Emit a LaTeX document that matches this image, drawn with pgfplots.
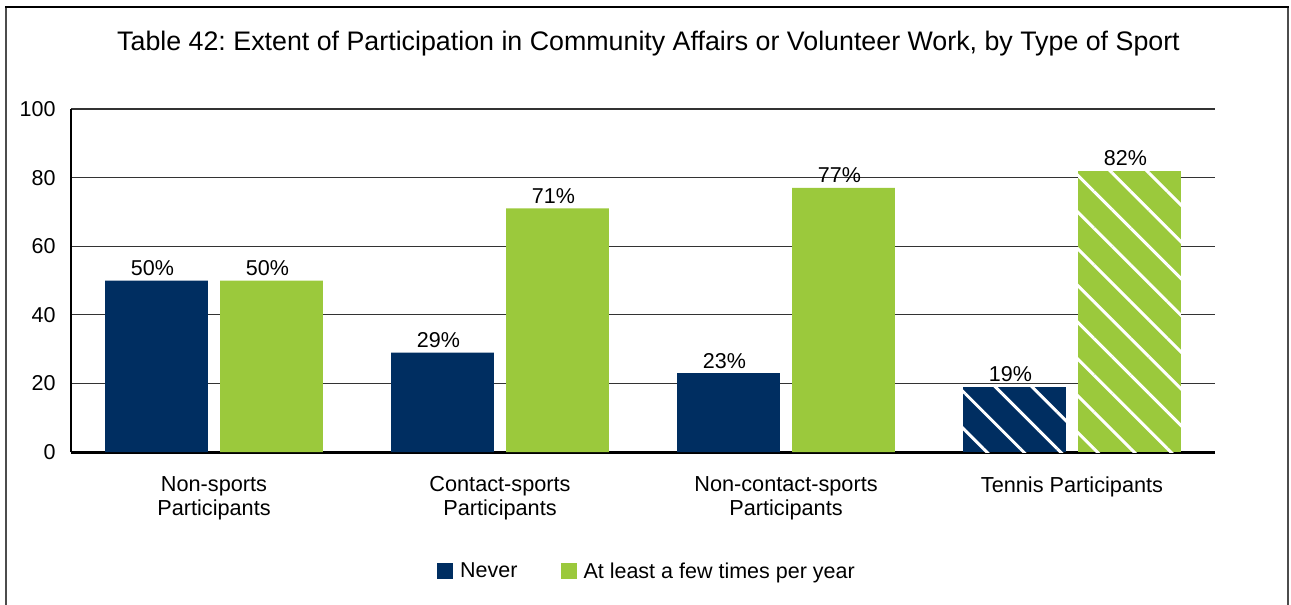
\documentclass[border=0pt]{standalone}
\usepackage{pgfplots}
\pgfplotsset{compat=1.18}
\usepackage{fontspec}
\setmainfont{Liberation Sans}
\usetikzlibrary{patterns.meta}
\definecolor{navy}{RGB}{0,46,97}
\definecolor{lgreen}{RGB}{155,201,60}
\newcommand{\lbl}{\fontsize{21.5}{24}\selectfont}
\frenchspacing
\begin{document}
\begin{tikzpicture}[x=1pt,y=1pt]
\useasboundingbox (0,0) rectangle (1291,-605);
% frame
\draw[line width=1.3pt, black!70] (6,-615) -- (6,-7);
\draw[line width=1.3pt, black!70] (1288,-615) -- (1288,-7);
\draw[line width=2pt, black] (5.35,-7) -- (1288.65,-7);
\node[anchor=base, font=\fontsize{26.8}{30}\selectfont, inner sep=0pt] at (648.5,-50) {Table 42: Extent of Participation in Community Affairs or Volunteer Work, by Type of Sport};
\begin{axis}[
  at={(71pt,-452pt)}, anchor=south west,
  scale only axis, width=1144pt, height=343pt,
  xmin=-0.5, xmax=3.5, ymin=0, ymax=100,
  axis x line*=bottom, axis y line*=left,
  x axis line style={-, line width=3pt},
  y axis line style={-, line width=2pt},
  ytick={0,20,40,60,80,100},
  xtick={0,1,2,3},
  xticklabels={{Non-sports\\Participants},{Contact-sports\\Participants},{Non-contact-sports\\Participants},{Tennis Participants}},
  major tick length=0pt,
  ymajorgrids, grid style={line width=1.2pt, black!80},
  /pgf/number format/assume math mode=true,
  yticklabel style={font=\lbl, xshift=-12pt},
  xticklabel style={font=\fontsize{21.7}{24}\selectfont, align=center, anchor=north, yshift=-21pt},
  ybar, bar width=0.36,
  nodes near coords={\pgfmathprintnumber{\pgfplotspointmeta}\%},
  nodes near coords style={font=\lbl, anchor=base, yshift=5pt, xshift=-4pt, inner sep=0pt},
  legend columns=2,
  legend style={at={(0.5035,-0.347)}, anchor=center, draw=none, font=\lbl,
    /tikz/every even column/.append style={column sep=41pt}},
  legend image code/.code={\fill[#1] (0pt,-8pt) rectangle (16pt,8pt); \path (21pt,0pt);},
]
\addplot[fill=navy, draw=none, bar shift=-0.201] coordinates {(0,50) (1,29) (2,23)};
\addlegendentry{Never}
\addplot[fill=lgreen, draw=none, bar shift=0.201] coordinates {(0,50) (1,71) (2,77)};
\addlegendentry{At least a few times per year}
\addplot[fill=navy, draw=none, bar shift=-0.201, forget plot,
  postaction={pattern={Lines[angle=-45, distance=26pt, line width=3pt]}, pattern color=white}] coordinates {(3,19)};
\addplot[fill=lgreen, draw=none, bar shift=0.201, forget plot,
  postaction={pattern={Lines[angle=-45, distance=26pt, line width=3pt]}, pattern color=white}] coordinates {(3,82)};
\end{axis}
\end{tikzpicture}
\end{document}
